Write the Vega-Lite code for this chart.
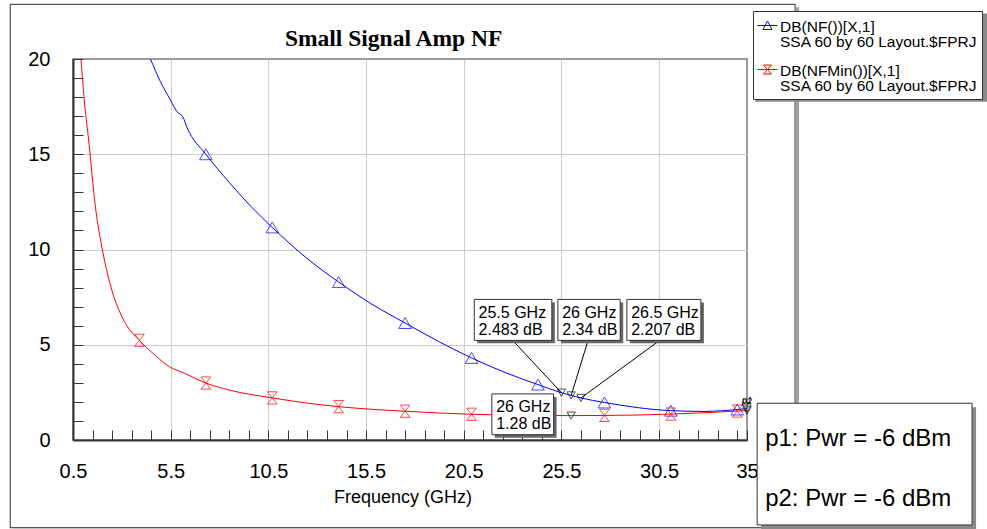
{
  "$schema": "https://vega.github.io/schema/vega-lite/v6.json",
  "width": 674,
  "height": 381,
  "autosize": {"type": "none"},
  "padding": {"left": 73, "top": 59, "right": 240, "bottom": 89},
  "background": "white",
  "datasets": {
    "curves": [
      {"s": "NF", "f": 4.0, "v": 21.0},
      {"s": "NF", "f": 4.46, "v": 20.0},
      {"s": "NF", "f": 4.97, "v": 18.82},
      {"s": "NF", "f": 5.48, "v": 17.86},
      {"s": "NF", "f": 5.82, "v": 17.24},
      {"s": "NF", "f": 6.13, "v": 16.95},
      {"s": "NF", "f": 6.33, "v": 16.42},
      {"s": "NF", "f": 7.3, "v": 15.0},
      {"s": "NF", "f": 8.5, "v": 13.52},
      {"s": "NF", "f": 9.6, "v": 12.27},
      {"s": "NF", "f": 10.7, "v": 11.16},
      {"s": "NF", "f": 12.4, "v": 9.6},
      {"s": "NF", "f": 14.1, "v": 8.29},
      {"s": "NF", "f": 15.8, "v": 7.13},
      {"s": "NF", "f": 17.5, "v": 6.14},
      {"s": "NF", "f": 19.2, "v": 5.18},
      {"s": "NF", "f": 20.9, "v": 4.31},
      {"s": "NF", "f": 22.6, "v": 3.55},
      {"s": "NF", "f": 24.3, "v": 2.91},
      {"s": "NF", "f": 25.5, "v": 2.483},
      {"s": "NF", "f": 26.0, "v": 2.34},
      {"s": "NF", "f": 26.5, "v": 2.207},
      {"s": "NF", "f": 27.7, "v": 1.97},
      {"s": "NF", "f": 29.4, "v": 1.7},
      {"s": "NF", "f": 31.1, "v": 1.54},
      {"s": "NF", "f": 32.8, "v": 1.5},
      {"s": "NF", "f": 34.5, "v": 1.6},
      {"s": "NF", "f": 35.0, "v": 1.65},
      {"s": "NFMin", "f": 0.5, "v": 28.0},
      {"s": "NFMin", "f": 0.7, "v": 23.5},
      {"s": "NFMin", "f": 0.91, "v": 20.0},
      {"s": "NFMin", "f": 1.1, "v": 17.6},
      {"s": "NFMin", "f": 1.3, "v": 15.75},
      {"s": "NFMin", "f": 1.64, "v": 12.3},
      {"s": "NFMin", "f": 2.03, "v": 9.85},
      {"s": "NFMin", "f": 2.41, "v": 8.15},
      {"s": "NFMin", "f": 3.09, "v": 6.3},
      {"s": "NFMin", "f": 3.9, "v": 5.23},
      {"s": "NFMin", "f": 4.7, "v": 4.45},
      {"s": "NFMin", "f": 5.48, "v": 3.82},
      {"s": "NFMin", "f": 6.08, "v": 3.56},
      {"s": "NFMin", "f": 7.3, "v": 2.99},
      {"s": "NFMin", "f": 8.5, "v": 2.62},
      {"s": "NFMin", "f": 10.7, "v": 2.21},
      {"s": "NFMin", "f": 12.4, "v": 1.95},
      {"s": "NFMin", "f": 14.1, "v": 1.75},
      {"s": "NFMin", "f": 15.8, "v": 1.61},
      {"s": "NFMin", "f": 17.5, "v": 1.51},
      {"s": "NFMin", "f": 19.2, "v": 1.42},
      {"s": "NFMin", "f": 20.9, "v": 1.35},
      {"s": "NFMin", "f": 22.6, "v": 1.31},
      {"s": "NFMin", "f": 24.3, "v": 1.29},
      {"s": "NFMin", "f": 26.0, "v": 1.28},
      {"s": "NFMin", "f": 27.7, "v": 1.29},
      {"s": "NFMin", "f": 29.4, "v": 1.31},
      {"s": "NFMin", "f": 31.1, "v": 1.36},
      {"s": "NFMin", "f": 32.8, "v": 1.43},
      {"s": "NFMin", "f": 34.5, "v": 1.52},
      {"s": "NFMin", "f": 35.0, "v": 1.55}
    ],
    "markers": [
      {"f": 25.5, "v": 2.483, "t": ["25.5 GHz", "2.483 dB"], "bx1": 21.04, "bx2": 25.01, "by1": 7.38, "by2": 5.23, "tx": 21.26, "ty": 6.4, "lf": 23.05, "lv": 5.18},
      {"f": 26.0, "v": 2.34, "t": ["26 GHz", "2.34 dB"], "bx1": 25.32, "bx2": 28.51, "by1": 7.38, "by2": 5.23, "tx": 25.54, "ty": 6.4, "lf": 26.85, "lv": 5.18},
      {"f": 26.5, "v": 2.207, "t": ["26.5 GHz", "2.207 dB"], "bx1": 28.85, "bx2": 32.64, "by1": 7.38, "by2": 5.23, "tx": 29.07, "ty": 6.4, "lf": 30.47, "lv": 5.18},
      {"f": 26.0, "v": 1.28, "t": ["26 GHz", "1.28 dB"], "bx1": 21.94, "bx2": 25.1, "by1": 2.42, "by2": 0.28, "tx": 22.16, "ty": 1.45, "lf": null, "lv": null}
    ],
    "pm": [
      {"f": 35.0, "v": 1.65, "p": "p1"},
      {"f": 35.0, "v": 1.55, "p": "p2"}
    ]
  },
  "layer": [
    {
      "data": {"values": [{}]},
      "mark": {"type": "rule", "color": "#a0a0a0", "strokeWidth": 3, "xOffset": 2.5, "yOffset": 3, "y2Offset": 3},
      "encoding": {
        "x": {"datum": 37.46, "type": "quantitative"},
        "y": {"datum": 22.87, "type": "quantitative"},
        "y2": {"datum": -4.6}
      }
    },
    {
      "data": {"values": [{}]},
      "mark": {"type": "rule", "color": "#a0a0a0", "strokeWidth": 3, "yOffset": 2.5, "xOffset": 3, "x2Offset": 3},
      "encoding": {
        "x": {"datum": -2.71, "type": "quantitative"},
        "x2": {"datum": 37.46},
        "y": {"datum": -4.6, "type": "quantitative"}
      }
    },
    {
      "data": {"values": [{}]},
      "mark": {"type": "rect", "fill": "transparent", "stroke": "#555555", "strokeWidth": 1.2},
      "encoding": {
        "x": {"datum": -2.71, "type": "quantitative"},
        "x2": {"datum": 37.46},
        "y": {"datum": 22.87, "type": "quantitative"},
        "y2": {"datum": -4.6}
      }
    },
    {
      "data": {"values": [{}]},
      "mark": {"type": "text", "text": "Small Signal Amp NF", "align": "center", "baseline": "alphabetic", "font": "Liberation Serif", "fontSize": 23.5, "fontWeight": "bold", "color": "black"},
      "encoding": {
        "x": {"datum": 16.91, "type": "quantitative"},
        "y": {"datum": 20.66, "type": "quantitative"}
      }
    },
    {
      "data": {"name": "curves"},
      "mark": {"type": "line", "clip": true, "interpolate": "monotone", "strokeWidth": 1},
      "encoding": {
        "x": {
          "field": "f", "type": "quantitative",
          "scale": {"domain": [0.5, 35], "nice": false, "zero": false},
          "axis": {
            "title": "Frequency (GHz)",
            "values": [0.5, 1.5, 2.5, 3.5, 4.5, 5.5, 6.5, 7.5, 8.5, 9.5, 10.5, 11.5, 12.5, 13.5, 14.5, 15.5, 16.5, 17.5, 18.5, 19.5, 20.5, 21.5, 22.5, 23.5, 24.5, 25.5, 26.5, 27.5, 28.5, 29.5, 30.5, 31.5, 32.5, 33.5, 34.5, 35],
            "tickCount": 200,
            "labelExpr": "((datum.value - 0.5) % 5 == 0 || datum.value == 35) ? '' + datum.value : ''",
            "labelFont": "Liberation Sans", "labelFontSize": 20, "labelColor": "black",
            "labelBaseline": "alphabetic", "labelPadding": 47.7, "labelFlush": false, "labelOverlap": false,
            "tickSize": -10, "tickColor": "#333333", "tickWidth": 1,
            "domainColor": "#333333", "domainWidth": 2,
            "grid": true,
            "gridColor": {"condition": {"test": "(datum.value - 0.5) % 5 == 0 && datum.value > 1 && datum.value < 34", "value": "#cccccc"}, "value": "transparent"},
            "gridWidth": 1,
            "titleFont": "Liberation Sans", "titleFontSize": 18, "titleFontWeight": "normal", "titleColor": "black",
            "titleX": 329.5, "titleY": 62, "titleBaseline": "alphabetic", "titleAlign": "center"
          }
        },
        "y": {
          "field": "v", "type": "quantitative",
          "scale": {"domain": [0, 20], "nice": false, "zero": false},
          "axis": {
            "title": null,
            "values": [0, 1, 2, 3, 4, 5, 6, 7, 8, 9, 10, 11, 12, 13, 14, 15, 16, 17, 18, 19, 20],
            "tickCount": 200,
            "labelExpr": "datum.value % 5 == 0 ? '' + datum.value : ''",
            "labelFont": "Liberation Sans", "labelFontSize": 20, "labelColor": "black",
            "labelBaseline": "middle", "labelAlign": "right", "labelPadding": 33, "labelFlush": false, "labelOverlap": false,
            "tickSize": -10, "tickColor": "#333333", "tickWidth": 1,
            "domainColor": "#333333", "domainWidth": 2,
            "grid": true,
            "gridColor": {"condition": {"test": "datum.value % 5 == 0 && datum.value > 0 && datum.value < 20", "value": "#cccccc"}, "value": "transparent"},
            "gridWidth": 1
          }
        },
        "color": {
          "field": "s", "type": "nominal",
          "scale": {"domain": ["NF", "NFMin"], "range": ["#0000ff", "#ff0000"]},
          "legend": {
            "orient": "none", "legendX": 680, "legendY": -48,
            "title": null,
            "labelExpr": "datum.value == 'NF' ? ['DB(NF())[X,1]', 'SSA 60 by 60 Layout.$FPRJ'] : ['DB(NFMin())[X,1]', 'SSA 60 by 60 Layout.$FPRJ']",
            "labelFont": "Liberation Sans", "labelFontSize": 15.5, "labelColor": "black", "labelLimit": 400,
            "labelBaseline": "top", "labelOffset": 2,
            "symbolSize": 400, "symbolStrokeWidth": 1,
            "strokeColor": "#333333", "fillColor": "white", "padding": 4, "rowPadding": 8, "zindex": 1,
            "encode": {
              "symbols": {"update": {
                "shape": {"signal": "datum.value == 'NF' ? 'M-1,0L1,0M-0.45,0.4L0,-0.45L0.45,0.4Z' : 'M-1,0L1,0M-0.4,-0.45L0.4,-0.45L-0.4,0.45L0.4,0.45Z'"},
                "fill": {"value": "transparent"}
              }},
              "labels": {"update": {"lineHeight": {"value": 15.5}, "dy": {"value": -6}}}
            }
          }
        }
      }
    },
    {
      "data": {"name": "curves"},
      "transform": [{"filter": {"and": [{"field": "s", "equal": "NF"}, {"field": "f", "oneOf": [3.9, 7.3, 10.7, 14.1, 17.5, 20.9, 24.3, 27.7, 31.1, 34.5]}]}}],
      "mark": {"type": "point", "shape": "triangle-up", "size": 160, "filled": false, "color": "#0000ff", "strokeWidth": 1, "clip": true},
      "encoding": {
        "x": {"field": "f", "type": "quantitative"},
        "y": {"field": "v", "type": "quantitative"}
      }
    },
    {
      "data": {"name": "curves"},
      "transform": [{"filter": {"and": [{"field": "s", "equal": "NFMin"}, {"field": "f", "oneOf": [3.9, 7.3, 10.7, 14.1, 17.5, 20.9, 24.3, 27.7, 31.1, 34.5]}]}}],
      "mark": {"type": "point", "shape": "M-0.8,-1L0.8,-1L-0.8,1L0.8,1Z", "size": 150, "filled": false, "color": "#ff0000", "strokeWidth": 1, "clip": true},
      "encoding": {
        "x": {"field": "f", "type": "quantitative"},
        "y": {"field": "v", "type": "quantitative"}
      }
    },
    {
      "data": {"name": "markers"},
      "transform": [{"filter": "isValid(datum.lf)"}],
      "mark": {"type": "rule", "color": "black", "strokeWidth": 1},
      "encoding": {
        "x": {"field": "lf", "type": "quantitative"},
        "y": {"field": "lv", "type": "quantitative"},
        "x2": {"field": "f"},
        "y2": {"field": "v"}
      }
    },
    {
      "data": {"name": "markers"},
      "mark": {"type": "point", "shape": "triangle-down", "size": 70, "filled": false, "color": "black", "strokeWidth": 1},
      "encoding": {
        "x": {"field": "f", "type": "quantitative"},
        "y": {"field": "v", "type": "quantitative"}
      }
    },
    {
      "data": {"name": "markers"},
      "mark": {"type": "rect", "fill": "#666666", "xOffset": 3, "x2Offset": 3, "yOffset": 3, "y2Offset": 3},
      "encoding": {
        "x": {"field": "bx1", "type": "quantitative"},
        "x2": {"field": "bx2"},
        "y": {"field": "by1", "type": "quantitative"},
        "y2": {"field": "by2"}
      }
    },
    {
      "data": {"name": "markers"},
      "mark": {"type": "rect", "fill": "white", "stroke": "#333333", "strokeWidth": 1},
      "encoding": {
        "x": {"field": "bx1", "type": "quantitative"},
        "x2": {"field": "bx2"},
        "y": {"field": "by1", "type": "quantitative"},
        "y2": {"field": "by2"}
      }
    },
    {
      "data": {"name": "markers"},
      "mark": {"type": "text", "align": "left", "baseline": "alphabetic", "font": "Liberation Sans", "fontSize": 16, "lineHeight": 16.5, "color": "black"},
      "encoding": {
        "x": {"field": "tx", "type": "quantitative"},
        "y": {"field": "ty", "type": "quantitative"},
        "text": {"field": "t", "type": "nominal"}
      }
    },
    {
      "data": {"name": "pm"},
      "mark": {"type": "point", "shape": "triangle-down", "size": 70, "filled": false, "color": "black", "strokeWidth": 1},
      "encoding": {
        "x": {"field": "f", "type": "quantitative"},
        "y": {"field": "v", "type": "quantitative"}
      }
    },
    {
      "data": {"name": "pm"},
      "mark": {"type": "text", "align": "center", "baseline": "alphabetic", "font": "Liberation Sans", "fontSize": 9, "fontStyle": "italic", "dy": -6, "color": "black"},
      "encoding": {
        "x": {"field": "f", "type": "quantitative"},
        "y": {"field": "v", "type": "quantitative"},
        "text": {"field": "p", "type": "nominal"}
      }
    },
    {
      "data": {"values": [{}]},
      "mark": {"type": "rect", "fill": "#8a8a8a", "xOffset": 4, "x2Offset": 4, "yOffset": 4, "y2Offset": 4},
      "encoding": {
        "x": {"datum": 35.52, "type": "quantitative"},
        "x2": {"datum": 46.52},
        "y": {"datum": 1.93, "type": "quantitative"},
        "y2": {"datum": -4.46}
      }
    },
    {
      "data": {"values": [{}]},
      "mark": {"type": "rect", "fill": "white", "stroke": "#333333", "strokeWidth": 1},
      "encoding": {
        "x": {"datum": 35.52, "type": "quantitative"},
        "x2": {"datum": 46.52},
        "y": {"datum": 1.93, "type": "quantitative"},
        "y2": {"datum": -4.46}
      }
    },
    {
      "data": {"values": [{}]},
      "mark": {"type": "text", "align": "left", "baseline": "alphabetic", "font": "Liberation Sans", "fontSize": 24, "lineHeight": 60, "color": "black", "text": ["p1: Pwr = -6 dBm", "p2: Pwr = -6 dBm"]},
      "encoding": {
        "x": {"datum": 35.93, "type": "quantitative"},
        "y": {"datum": -0.3, "type": "quantitative"}
      }
    },
    {
      "data": {"values": [{}]},
      "mark": {"type": "rect", "fill": "#8a8a8a", "xOffset": 3, "x2Offset": 3, "yOffset": 3, "y2Offset": 3},
      "encoding": {
        "x": {"datum": 35.27, "type": "quantitative"},
        "x2": {"datum": 47.19},
        "y": {"datum": 22.54, "type": "quantitative"},
        "y2": {"datum": 17.91}
      }
    }
  ],
  "config": {
    "view": {"stroke": "#7a7a7a", "strokeWidth": 1.5},
    "font": "Liberation Sans"
  }
}
